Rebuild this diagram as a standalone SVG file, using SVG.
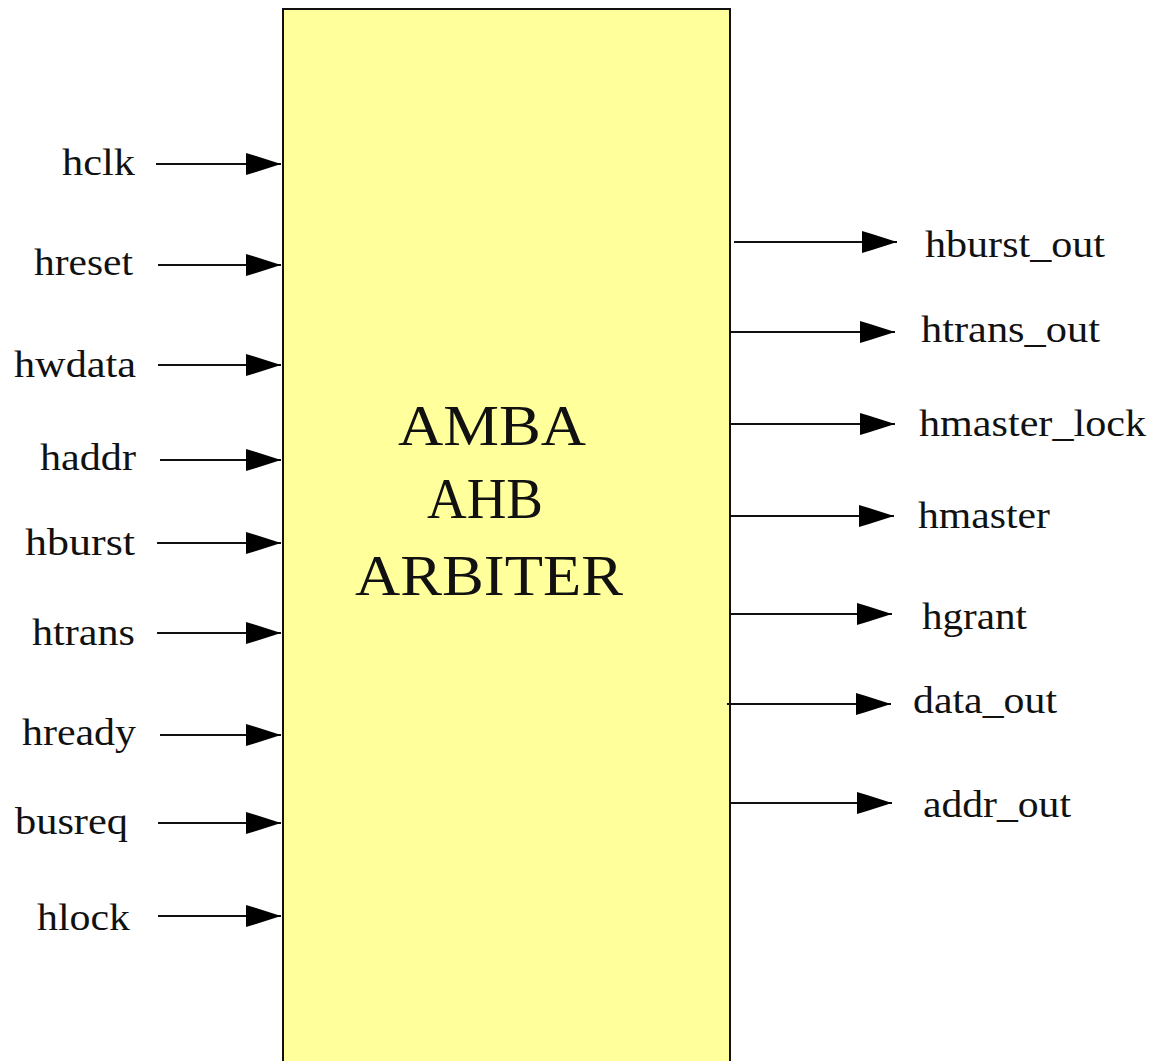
<svg xmlns="http://www.w3.org/2000/svg" width="1163" height="1061" viewBox="0 0 1163 1061">
<style>
.lbl{font-family:"Liberation Serif","Times New Roman",serif;font-size:37px;fill:#111;}
.title{font-family:"Liberation Serif","Times New Roman",serif;font-size:57px;fill:#111;}
.wire{stroke:#111;stroke-width:2;fill:none;marker-end:url(#ah);}
</style>
<defs>
<marker id="ah" markerUnits="userSpaceOnUse" markerWidth="36" markerHeight="24" refX="35" refY="12" orient="auto" viewBox="0 0 36 24">
<path d="M0,1 L10,4 L35,12 L10,20 L0,23 z" fill="#000"/>
</marker>
</defs>
<rect width="1163" height="1061" fill="#fff"/>
<g id="arbiter">
<rect x="283" y="9" width="447" height="1070" fill="#ffff9c" stroke="#111" stroke-width="2"/>
<text class="title" x="398" y="445" textLength="188" lengthAdjust="spacingAndGlyphs">AMBA</text>
<text class="title" x="427" y="518" textLength="116" lengthAdjust="spacingAndGlyphs">AHB</text>
<text class="title" x="355" y="595" textLength="268" lengthAdjust="spacingAndGlyphs">ARBITER</text>
</g>
<g id="connectors">
<line class="wire" x1="156" y1="164" x2="281" y2="164"/>
<line class="wire" x1="158" y1="265" x2="281" y2="265"/>
<line class="wire" x1="158" y1="365" x2="281" y2="365"/>
<line class="wire" x1="160" y1="460" x2="281" y2="460"/>
<line class="wire" x1="157" y1="543" x2="281" y2="543"/>
<line class="wire" x1="157" y1="633" x2="281" y2="633"/>
<line class="wire" x1="160" y1="735" x2="281" y2="735"/>
<line class="wire" x1="158" y1="823" x2="281" y2="823"/>
<line class="wire" x1="158" y1="916" x2="281" y2="916"/>
<line class="wire" x1="734" y1="242" x2="897" y2="242"/>
<line class="wire" x1="730" y1="332" x2="895" y2="332"/>
<line class="wire" x1="730" y1="424" x2="895" y2="424"/>
<line class="wire" x1="730" y1="516" x2="894" y2="516"/>
<line class="wire" x1="730" y1="614" x2="892" y2="614"/>
<line class="wire" x1="727" y1="704" x2="891" y2="704"/>
<line class="wire" x1="730" y1="803" x2="892" y2="803"/>
</g>
<g id="in-hclk"><text class="lbl" x="62" y="175" textLength="73" lengthAdjust="spacingAndGlyphs">hclk</text></g>
<g id="in-hreset"><text class="lbl" x="34" y="275" textLength="99" lengthAdjust="spacingAndGlyphs">hreset</text></g>
<g id="in-hwdata"><text class="lbl" x="14" y="377" textLength="122" lengthAdjust="spacingAndGlyphs">hwdata</text></g>
<g id="in-haddr"><text class="lbl" x="40" y="470" textLength="96" lengthAdjust="spacingAndGlyphs">haddr</text></g>
<g id="in-hburst"><text class="lbl" x="25" y="555" textLength="110" lengthAdjust="spacingAndGlyphs">hburst</text></g>
<g id="in-htrans"><text class="lbl" x="32" y="645" textLength="103" lengthAdjust="spacingAndGlyphs">htrans</text></g>
<g id="in-hready"><text class="lbl" x="22" y="745" textLength="114" lengthAdjust="spacingAndGlyphs">hready</text></g>
<g id="in-busreq"><text class="lbl" x="15" y="834" textLength="113" lengthAdjust="spacingAndGlyphs">busreq</text></g>
<g id="in-hlock"><text class="lbl" x="37" y="930" textLength="93" lengthAdjust="spacingAndGlyphs">hlock</text></g>
<g id="out-hburst_out"><text class="lbl" x="925" y="257" textLength="180" lengthAdjust="spacingAndGlyphs">hburst_out</text></g>
<g id="out-htrans_out"><text class="lbl" x="921" y="342" textLength="179" lengthAdjust="spacingAndGlyphs">htrans_out</text></g>
<g id="out-hmaster_lock"><text class="lbl" x="919" y="436" textLength="227" lengthAdjust="spacingAndGlyphs">hmaster_lock</text></g>
<g id="out-hmaster"><text class="lbl" x="918" y="528" textLength="132" lengthAdjust="spacingAndGlyphs">hmaster</text></g>
<g id="out-hgrant"><text class="lbl" x="922" y="629" textLength="105" lengthAdjust="spacingAndGlyphs">hgrant</text></g>
<g id="out-data_out"><text class="lbl" x="913" y="713" textLength="144" lengthAdjust="spacingAndGlyphs">data_out</text></g>
<g id="out-addr_out"><text class="lbl" x="923" y="817" textLength="148" lengthAdjust="spacingAndGlyphs">addr_out</text></g>
</svg>
